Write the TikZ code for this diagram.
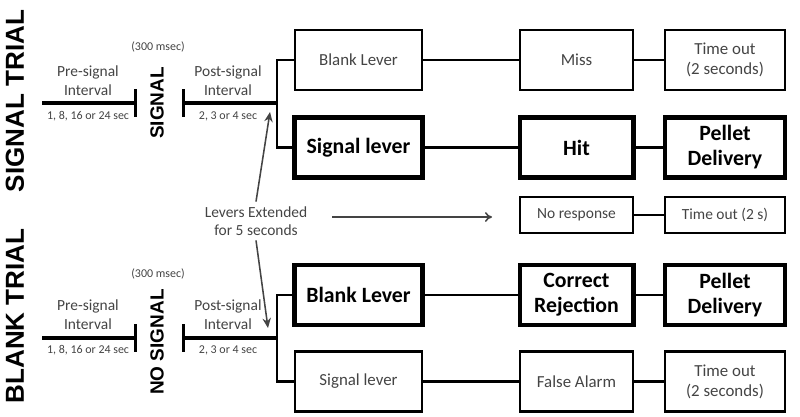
\documentclass[tikz,border=0pt]{standalone}
\usepackage		 {fontspec}
\setmainfont{Carlito}
\newfontfamily\headfont{Liberation Sans}
\usepackage		 {xcolor   }
\usetikzlibrary{shapes,calc,positioning}
\usetikzlibrary	 {arrows.meta}
\definecolor{txtgray}{RGB}{68,68,68}

\begin{document}
\begin{tikzpicture}[x=0.025cm,y=-0.025cm]
  \tikzset{
  box/.style={draw,line width=1.9pt,align=center,inner sep=2pt,minimum height=1.5cm,text=txtgray,font=\fontsize{12}{14.2}\selectfont},
  bbox/.style={box,line width=3.4pt,text=black,font=\fontsize{15.5}{17.8}\selectfont\bfseries},
  sbox/.style={box,minimum height=0.9cm,font=\fontsize{11}{13}\selectfont},
  colA/.style={minimum width=3.18cm},
  colB/.style={minimum width=2.83cm},
  colC/.style={minimum width=3.0cm},
  conn/.style={line width=1.9pt},
  tl/.style={line width=2.3pt},
  lbl/.style={text=txtgray,align=center,font=\fontsize{11}{13.5}\selectfont},
  sml/.style={text=txtgray,font=\fontsize{8.5}{10}\selectfont},
  trial/.style={rotate=90,font=\headfont\bfseries\fontsize{18.5}{20}\selectfont},
  phase/.style={rotate=90,font=\headfont\bfseries\fontsize{13.5}{15}\selectfont},
  arr/.style={-{Stealth[length=7pt,width=6pt]},line width=1.1pt,txtgray},
  }
  \useasboundingbox (0,0) rectangle (800,416);

  % the trial labels
  \node[trial] (sigtrial) at (15,101) {SIGNAL TRIAL};
  \node[trial] (blktrial) at (15,316) {BLANK TRIAL};

  % signal trial time line
  \node[lbl] (pre1) at (88,80.5) {Pre-signal\\Interval};
  \node[sml] (sec1) at (88,116) {1, 8, 16 or 24 sec};
  \node[sml] (ms1) at (158,47) {(300 msec)};
  \node[phase] (sig1) at (157,103) {SIGNAL};
  \node[lbl] (post1) at (228,80.5) {Post-signal\\Interval};
  \node[sml] (psec1) at (228,116) {2, 3 or 4 sec};
  \coordinate (s1) at (42,103);
  \coordinate (e1) at (137,103);
  \coordinate (p1) at (182,103);
  \coordinate (sp1) at (277,103);
  \draw[tl,-{Bar[width=0.68cm]}] (s1) -- (e1);
  \draw[tl,{Bar[width=0.68cm]}-] (p1) -- (sp1);

  % blank trial time line
  \node[lbl] (pre2) at (88,314.5) {Pre-signal\\Interval};
  \node[sml] (sec2) at (88,350) {1, 8, 16 or 24 sec};
  \node[sml] (ms2) at (158,274) {(300 msec)};
  \node[phase] (sig2) at (157,342) {NO SIGNAL};
  \node[lbl] (post2) at (228,314.5) {Post-signal\\Interval};
  \node[sml] (psec2) at (228,350) {2, 3 or 4 sec};
  \coordinate (s2) at (42,338);
  \coordinate (e2) at (137,338);
  \coordinate (p2) at (182,338);
  \coordinate (sp2) at (277,338);
  \draw[tl,-{Bar[width=0.68cm]}] (s2) -- (e2);
  \draw[tl,{Bar[width=0.68cm]}-] (p2) -- (sp2);

  % the boxes
  \node[box,colA] (bl1) at (358.5,60) {Blank Lever};
  \node[box,colB] (miss) at (576.5,60) {Miss};
  \node[box,colC] (to1) at (725,60) {Time out\\(2 seconds)};

  \node[bbox,colA] (sl1) at (358.5,147.5) {Signal lever};
  \node[bbox,colB] (hit) at (576.5,147.5) {Hit};
  \node[bbox,colC] (pd1) at (725,147.5) {Pellet\\Delivery};

  \node[sbox,colB] (nr) at (576.5,215) {No response};
  \node[sbox,colC] (to2) at (725,215) {Time out (2 s)};

  \node[bbox,colA] (bl2) at (358.5,295) {Blank Lever};
  \node[bbox,colB] (cr) at (576.5,295) {Correct\\Rejection};
  \node[bbox,colC] (pd2) at (725,295) {Pellet\\Delivery};

  \node[box,colA] (sl2) at (358.5,381.5) {Signal lever};
  \node[box,colB] (fa) at (576.5,381.5) {False Alarm};
  \node[box,colC] (to3) at (725,381.5) {Time out\\(2 seconds)};

  % the connection between the boxes
  \draw[conn] (sp1) |- (bl1.west);
  \draw[conn] (sp1) |- (sl1.west);
  \draw[conn] (sp2) |- (bl2.west);
  \draw[conn] (sp2) |- (sl2.west);
  \draw[conn] (bl1) -- (miss);
  \draw[conn] (miss) -- (to1);
  \draw[conn] (sl1) -- (hit);
  \draw[conn] (hit) -- (pd1);
  \draw[conn] (nr) -- (to2);
  \draw[conn] (bl2) -- (cr);
  \draw[conn] (cr) -- (pd2);
  \draw[conn] (sl2) -- (fa);
  \draw[conn] (fa) -- (to3);

  % levers extended
  \node[lbl,font=\fontsize{11}{12.8}\selectfont] (lev) at (256,221) {Levers Extended\\for 5 seconds};
  \coordinate (upTip) at (270,112);
  \coordinate (dnTip) at (268,328);
  \coordinate (rTip) at (492,217);
  \draw[arr] (lev.north) -- (upTip);
  \draw[arr] (lev.south) -- (dnTip);
  \draw[arr,-{To[length=5pt,width=7pt]},shorten <=0.5cm] (lev.east |- rTip) -- (rTip);
\end{tikzpicture}
\end{document}
